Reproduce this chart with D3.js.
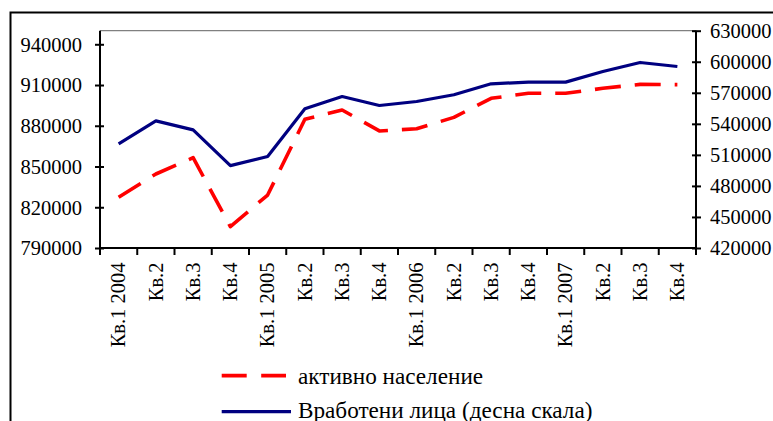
<!DOCTYPE html>
<html>
<head>
<meta charset="utf-8">
<script src="https://cdn.jsdelivr.net/npm/d3@7"></script>
<style>
  html, body { margin: 0; padding: 0; background: #fff; }
  svg { display: block; }
</style>
</head>
<body>
<script>
// ---- data ----
const categories = ["Кв.1 2004", "Кв.2", "Кв.3", "Кв.4",
                    "Кв.1 2005", "Кв.2", "Кв.3", "Кв.4",
                    "Кв.1 2006", "Кв.2", "Кв.3", "Кв.4",
                    "Кв.1 2007", "Кв.2", "Кв.3", "Кв.4"];
const activePopulation = [827300, 844500, 856500, 805700, 829000, 884800, 891600, 876200,
                          877800, 886200, 900200, 903900, 903900, 907600, 910500, 910300];
const employed = [520600, 542900, 534200, 499600, 508400, 554500, 566400, 557700,
                  561600, 568100, 578700, 580300, 580300, 590600, 599300, 595400];
const leftTicks = [790000, 820000, 850000, 880000, 910000, 940000];
const rightTicks = [420000, 450000, 480000, 510000, 540000, 570000, 600000, 630000];
const leftDomain = [790000, 950000];
const rightDomain = [420000, 630000];
const seriesNames = ["активно население", "Вработени лица (десна скала)"];

// ---- layout ----
const W = 773, H = 421;
const plot = { left: 100, right: 696, top: 30.7, bottom: 248 };
const FONT = '"Liberation Serif"';

const svg = d3.select("body").append("svg").attr("width", W).attr("height", H);

function styleText(sel, size) {
  sel.style("font-family", FONT).style("font-size", (size || 20.5) + "px").style("fill", "#000");
}

// outer frame (only top & left visible)
svg.append("path")
  .attr("d", `M10.5,${H} L10.5,12.5 L${W},12.5`)
  .attr("fill", "none").attr("stroke", "#000").attr("stroke-width", 2);

const idx = d3.range(categories.length);
const xBand = d3.scaleBand().domain(idx).range([plot.left, plot.right]).padding(0);
const xc = i => xBand(i) + xBand.bandwidth() / 2;
const yL = d3.scaleLinear().domain(leftDomain).range([plot.bottom, plot.top]);
const yR = d3.scaleLinear().domain(rightDomain).range([plot.bottom, plot.top]);

// top border of plot area (grey)
svg.append("line")
  .attr("x1", plot.left).attr("x2", plot.right)
  .attr("y1", plot.top).attr("y2", plot.top)
  .attr("stroke", "#808080").attr("stroke-width", 1.2);

// lines
const lineL = d3.line().x((d, i) => xc(i)).y(d => yL(d));
const lineR = d3.line().x((d, i) => xc(i)).y(d => yR(d));

svg.append("path").datum(employed)
  .attr("d", lineR).attr("fill", "none")
  .attr("stroke", "#000080").attr("stroke-width", 3.2)
  .attr("stroke-linejoin", "round");

svg.append("path").datum(activePopulation)
  .attr("d", lineL).attr("fill", "none")
  .attr("stroke", "#ff0000").attr("stroke-width", 3.6)
  .attr("stroke-dasharray", "26,14").attr("stroke-linecap", "butt")
  .attr("stroke-linejoin", "round");

// left axis
const gL = svg.append("g").attr("transform", `translate(${plot.left},0)`)
  .call(d3.axisLeft(yL).tickValues(leftTicks).tickSize(0).tickPadding(18).tickFormat(d3.format("d")));
gL.select(".domain").attr("stroke", "#000").attr("stroke-width", 2)
  .attr("d", `M0,${plot.top}V${plot.bottom + 1}`);
gL.selectAll(".tick line").attr("x1", -5).attr("x2", 4).attr("stroke", "#000").attr("stroke-width", 2);
gL.selectAll(".tick text").attr("dy", "0.33em").call(styleText);

// right axis
const gR = svg.append("g").attr("transform", `translate(${plot.right},0)`)
  .call(d3.axisRight(yR).tickValues(rightTicks).tickSize(0).tickPadding(14).tickFormat(d3.format("d")));
gR.select(".domain").attr("stroke", "#000").attr("stroke-width", 2)
  .attr("d", `M0,${plot.top}V${plot.bottom + 1}`);
gR.selectAll(".tick line").attr("x1", -4).attr("x2", 5).attr("stroke", "#000").attr("stroke-width", 2);
gR.selectAll(".tick text").attr("dy", "0.33em").call(styleText);

// bottom axis
const boundaries = d3.range(categories.length + 1).map(i => plot.left + i * xBand.bandwidth());
svg.append("line")
  .attr("x1", plot.left - 1).attr("x2", plot.right + 1)
  .attr("y1", plot.bottom).attr("y2", plot.bottom)
  .attr("stroke", "#000").attr("stroke-width", 2);
svg.append("g").selectAll("line").data(boundaries).join("line")
  .attr("x1", d => d).attr("x2", d => d)
  .attr("y1", plot.bottom).attr("y2", plot.bottom + 7)
  .attr("stroke", "#000").attr("stroke-width", 2);

svg.append("g").selectAll("text").data(categories).join("text")
  .attr("transform", (d, i) => `translate(${xc(i) - 0.5},${plot.bottom + 14.5}) rotate(-90)`)
  .attr("text-anchor", "end")
  .attr("dy", "0.35em")
  .call(styleText)
  .text(d => d);

// legend
const lg = svg.append("g");
lg.append("line")
  .attr("x1", 221.7).attr("x2", 286).attr("y1", 375.7).attr("y2", 375.7)
  .attr("stroke", "#ff0000").attr("stroke-width", 3.8)
  .attr("stroke-dasharray", "25,14.5");
lg.append("text").attr("x", 298).attr("y", 384).call(styleText, 23.2).text(seriesNames[0]);
lg.append("line")
  .attr("x1", 221.7).attr("x2", 291).attr("y1", 411.7).attr("y2", 411.7)
  .attr("stroke", "#000080").attr("stroke-width", 3.2);
lg.append("text").attr("x", 298).attr("y", 418).call(styleText, 23.2).text(seriesNames[1]);
</script>
</body>
</html>
